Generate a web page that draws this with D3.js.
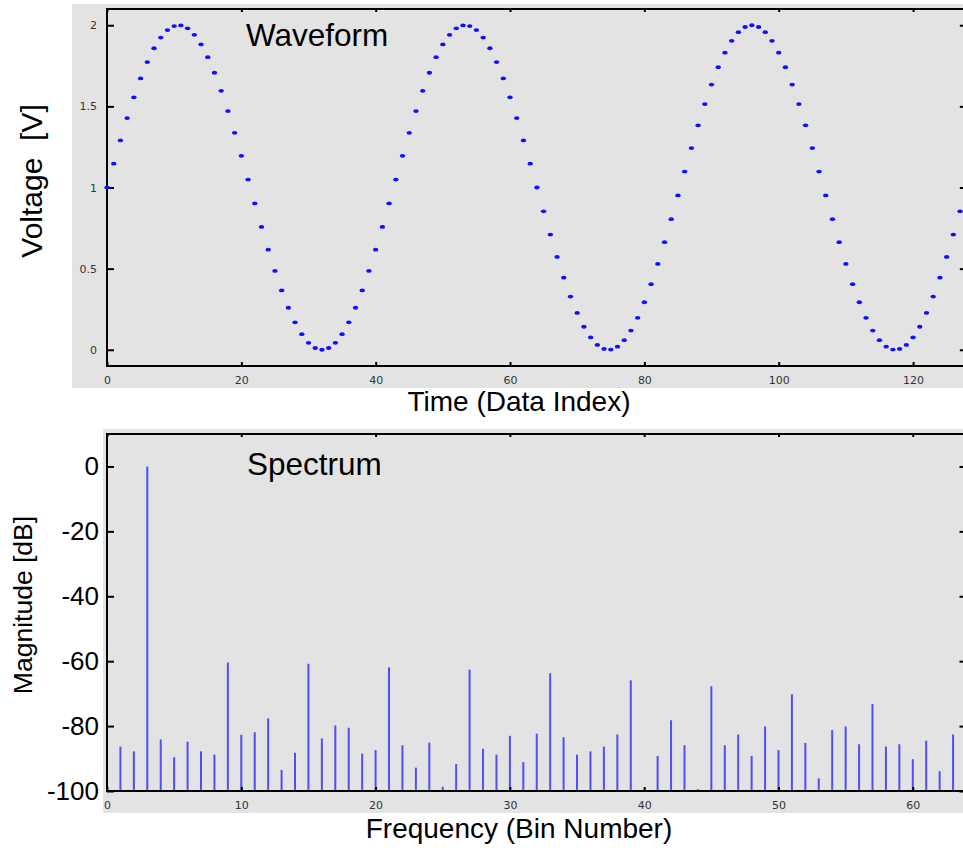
<!DOCTYPE html>
<html>
<head>
<meta charset="utf-8">
<script src="https://cdn.jsdelivr.net/npm/d3@7"></script>
<style>
  html, body { margin: 0; padding: 0; background: #ffffff; }
  svg { display: block; }
</style>
</head>
<body>
<svg id="chart" width="963" height="848"></svg>
<script>
// Sampled waveform: voltage of samples 0..127
const sampleVoltage = [
  1.000, 1.147, 1.290, 1.428, 1.556, 1.672, 1.773, 1.858, 1.924, 1.970,
  1.995, 1.999, 1.981, 1.941, 1.882, 1.803, 1.707, 1.596, 1.471, 1.337,
  1.195, 1.049, 0.902, 0.757, 0.617, 0.486, 0.366, 0.259, 0.169, 0.096,
  0.043, 0.011, 0.000, 0.011, 0.043, 0.096, 0.169, 0.259, 0.366, 0.486,
  0.617, 0.757, 0.902, 1.049, 1.195, 1.337, 1.471, 1.596, 1.707, 1.803,
  1.882, 1.941, 1.981, 1.999, 1.995, 1.970, 1.924, 1.858, 1.773, 1.672,
  1.556, 1.428, 1.290, 1.147, 1.000, 0.853, 0.710, 0.572, 0.444, 0.328,
  0.227, 0.142, 0.076, 0.030, 0.005, 0.001, 0.019, 0.059, 0.118, 0.197,
  0.293, 0.404, 0.529, 0.663, 0.805, 0.951, 1.098, 1.243, 1.383, 1.514,
  1.634, 1.741, 1.831, 1.904, 1.957, 1.989, 2.000, 1.989, 1.957, 1.904,
  1.831, 1.741, 1.634, 1.514, 1.383, 1.243, 1.098, 0.951, 0.805, 0.663,
  0.529, 0.404, 0.293, 0.197, 0.118, 0.059, 0.019, 0.001, 0.005, 0.030,
  0.076, 0.142, 0.227, 0.328, 0.444, 0.572, 0.710, 0.853
];

// Spectrum magnitude in dB for bins 1..63
const spectrumBins = d3.range(1, 64);
const spectrumDb = [
  -86.3, -87.8,   0.0, -84.1, -89.6, -84.8, -87.8, -88.8, -60.4, -82.7,
  -81.9, -77.6, -93.5, -88.2, -60.8, -83.8, -79.8, -80.5, -88.5, -87.4,
  -61.9, -85.9, -92.8, -85.1, -98.7, -91.7, -62.6, -87.0, -88.8, -83.0,
  -91.1, -82.3, -63.7, -83.4, -88.8, -87.8, -86.3, -82.6, -65.9, -101.0,
  -89.2, -78.2, -85.9, -99.4, -67.7, -85.9, -82.6, -89.2, -80.1, -87.4,
  -70.2, -85.2, -96.1, -81.2, -80.1, -85.6, -73.2, -86.3, -85.6, -90.2,
  -84.5, -93.9, -82.6
];

// Tick values and labels
const timeTicks = [0, 20, 40, 60, 80, 100, 120];
const voltTicks = [0, 0.5, 1, 1.5, 2];
const voltTickLabels = ["0", "0.5", "1", "1.5", "2"];
const binTicks = [0, 10, 20, 30, 40, 50, 60];
const dbTicks = [0, -20, -40, -60, -80, -100];
const dbTickLabels = ["0", "-20", "-40", "-60", "-80", "-100"];

const svg = d3.select("#chart");
const panelFill = "#e3e3e3";
const smallFont = "'DejaVu Sans', Verdana, sans-serif";
const bigFont = "Arial, 'Liberation Sans', sans-serif";

function styleAxis(g, fontSize, fontFamily, color) {
  g.select(".domain").remove();
  g.selectAll(".tick line").attr("stroke", "#000").attr("stroke-width", 2);
  g.selectAll(".tick text").attr("font-size", fontSize).attr("font-family", fontFamily)
    .attr("fill", color);
}

// ---------- Waveform panel ----------
const w = { left: 107, right: 966.8, top: 9, bottom: 366 };
svg.append("rect").attr("x", 72).attr("y", 4).attr("width", 891).attr("height", 384)
  .attr("fill", panelFill);

const xT = d3.scaleLinear().domain([0, 128]).range([w.left, w.right]);
const yV = d3.scaleLinear().domain([-0.1, 2.1]).range([w.bottom, w.top]);

svg.append("g").attr("transform", `translate(0,${w.bottom})`)
  .call(d3.axisBottom(xT).tickValues(timeTicks).tickSizeInner(-4).tickSizeOuter(0).tickPadding(10))
  .call(g => styleAxis(g, 11, smallFont, "#333"));
svg.append("g").attr("transform", `translate(0,${w.top})`)
  .call(d3.axisTop(xT).tickValues(timeTicks).tickSizeInner(-3).tickSizeOuter(0).tickFormat(""))
  .call(g => styleAxis(g, 11, smallFont, "#333"));
svg.append("g").attr("transform", `translate(${w.left},0)`)
  .call(d3.axisLeft(yV).tickValues(voltTicks).tickSizeInner(-7).tickSizeOuter(0).tickPadding(10)
    .tickFormat((d, i) => voltTickLabels[i]))
  .call(g => styleAxis(g, 11, smallFont, "#333"));
svg.append("g").attr("transform", `translate(${w.right},0)`)
  .call(d3.axisRight(yV).tickValues(voltTicks).tickSizeInner(-7).tickSizeOuter(0).tickFormat(""))
  .call(g => styleAxis(g, 11, smallFont, "#333"));

svg.append("rect").attr("x", w.left).attr("y", w.top)
  .attr("width", w.right - w.left).attr("height", w.bottom - w.top)
  .attr("fill", "none").attr("stroke", "#000").attr("stroke-width", 2);

svg.append("g").selectAll("ellipse").data(sampleVoltage).join("ellipse")
  .attr("cx", (d, i) => xT(i)).attr("cy", d => yV(d))
  .attr("rx", 2.7).attr("ry", 1.9).attr("fill", "#1010ff");

svg.append("text").attr("x", 246).attr("y", 46).text("Waveform")
  .attr("font-family", bigFont).attr("font-size", 31.5).attr("fill", "#000");
svg.append("text").attr("x", 519).attr("y", 411).attr("text-anchor", "middle")
  .text("Time (Data Index)").attr("font-family", bigFont).attr("font-size", 28).attr("fill", "#000");
svg.append("text").attr("transform", "translate(42,181) rotate(-90)").attr("text-anchor", "middle")
  .text("Voltage\u00a0\u00a0[V]").attr("font-family", bigFont).attr("font-size", 30).attr("fill", "#000");

// ---------- Spectrum panel ----------
const s = { left: 107, right: 966.5, top: 434, bottom: 791 };
svg.append("rect").attr("x", 103).attr("y", 429).attr("width", 860).attr("height", 384)
  .attr("fill", panelFill);

const xB = d3.scaleLinear().domain([0, 64]).range([s.left, s.right]);
const yD = d3.scaleLinear().domain([-100, 10]).range([s.bottom, s.top]);

svg.append("g").selectAll("line").data(spectrumDb).join("line")
  .attr("x1", (d, i) => xB(spectrumBins[i])).attr("x2", (d, i) => xB(spectrumBins[i]))
  .attr("y1", yD(-100)).attr("y2", d => yD(Math.max(d, -100)))
  .attr("stroke", "#4f4ff5").attr("stroke-width", 2);

svg.append("g").attr("transform", `translate(0,${s.bottom})`)
  .call(d3.axisBottom(xB).tickValues(binTicks).tickSizeInner(-4).tickSizeOuter(0).tickPadding(10))
  .call(g => styleAxis(g, 11, smallFont, "#333"));
svg.append("g").attr("transform", `translate(0,${s.top})`)
  .call(d3.axisTop(xB).tickValues(binTicks).tickSizeInner(-3).tickSizeOuter(0).tickFormat(""))
  .call(g => styleAxis(g, 11, smallFont, "#333"));
svg.append("g").attr("transform", `translate(${s.left},0)`)
  .call(d3.axisLeft(yD).tickValues(dbTicks).tickSizeInner(-7).tickSizeOuter(0).tickPadding(8)
    .tickFormat((d, i) => dbTickLabels[i]))
  .call(g => styleAxis(g, 26, bigFont, "#000"));
svg.append("g").attr("transform", `translate(${s.right},0)`)
  .call(d3.axisRight(yD).tickValues(dbTicks).tickSizeInner(-7).tickSizeOuter(0).tickFormat(""))
  .call(g => styleAxis(g, 11, smallFont, "#333"));

svg.append("rect").attr("x", s.left).attr("y", s.top)
  .attr("width", s.right - s.left).attr("height", s.bottom - s.top)
  .attr("fill", "none").attr("stroke", "#000").attr("stroke-width", 2);

svg.append("text").attr("x", 247).attr("y", 475).text("Spectrum")
  .attr("font-family", bigFont).attr("font-size", 31.5).attr("fill", "#000");
svg.append("text").attr("x", 519).attr("y", 838).attr("text-anchor", "middle")
  .text("Frequency (Bin Number)").attr("font-family", bigFont).attr("font-size", 28).attr("fill", "#000");
svg.append("text").attr("transform", "translate(32,605) rotate(-90)").attr("text-anchor", "middle")
  .text("Magnitude [dB]").attr("font-family", bigFont).attr("font-size", 26.5).attr("fill", "#000");
</script>
</body>
</html>
